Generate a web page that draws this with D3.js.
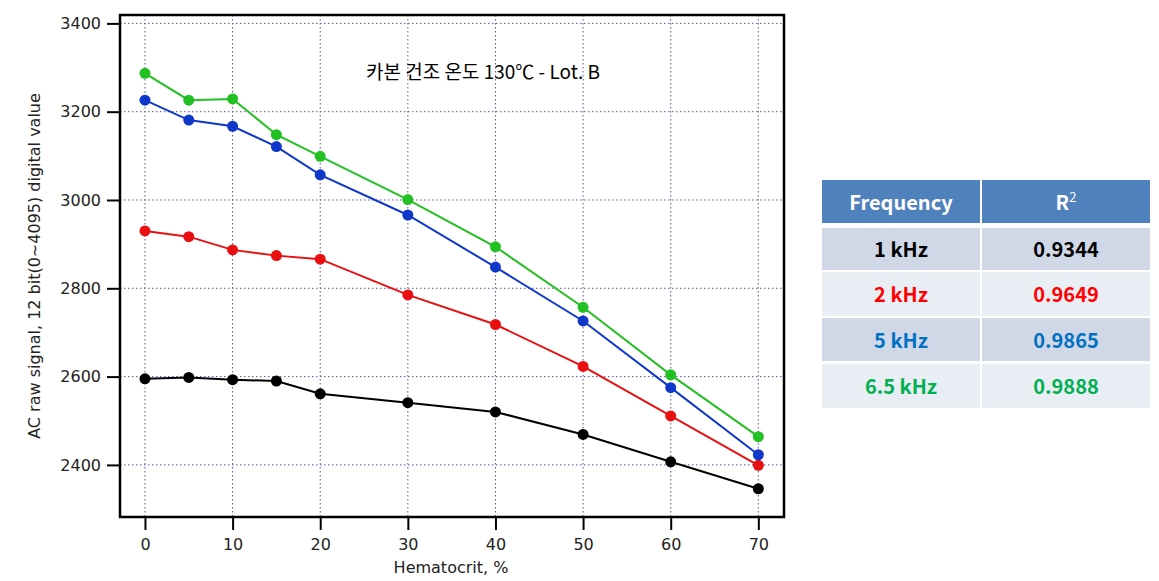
<!DOCTYPE html>
<html><head><meta charset="utf-8">
<script src="https://cdn.jsdelivr.net/npm/d3@7"></script>
<style>body{margin:0;background:#fff;}</style>
</head><body>
<svg id="c" width="1159" height="581"></svg>
<script>
const hematocrit = [0, 5, 10, 15, 20, 30, 40, 50, 60, 70];
const series1k  = [2595, 2598, 2593, 2590, 2561, 2541, 2520, 2469, 2407, 2346];
const series2k  = [2930, 2917, 2887, 2874, 2866, 2785, 2718, 2623, 2511, 2399];
const series5k  = [3226, 3181, 3167, 3121, 3057, 2966, 2848, 2726, 2575, 2423];
const series65k = [3287, 3226, 3229, 3148, 3099, 3001, 2894, 2757, 2604, 2464];
const seriesColors = ["#000000", "#e81010", "#1038c8", "#22c022"];
const xTicks = [0, 10, 20, 30, 40, 50, 60, 70];
const yTicks = [2400, 2600, 2800, 3000, 3200, 3400];
const tableFreq = ["1 kHz", "2 kHz", "5 kHz", "6.5 kHz"];
const tableR2 = ["0.9344", "0.9649", "0.9865", "0.9888"];
const tableColors = ["#000000", "#ff0000", "#0070c0", "#00b050"];

const svg = d3.select("#c");
const L = 120, T = 15, R = 784, B = 517;
const x = d3.scaleLinear().domain([-2.85, 72.93]).range([L, R]);
const y = d3.scaleLinear().domain([2282, 3419]).range([B, T]);
const font = "DejaVu Sans, sans-serif";

// grid
const g = svg.append("g");
g.selectAll("line.vx").data(xTicks).enter().append("line")
  .attr("x1", d => x(d)).attr("x2", d => x(d)).attr("y1", T).attr("y2", B)
  .attr("stroke", "#5a52a8").attr("stroke-width", 1).attr("stroke-dasharray", "1.5,2.5");
g.selectAll("line.hy").data(yTicks).enter().append("line")
  .attr("y1", d => y(d)).attr("y2", d => y(d)).attr("x1", L).attr("x2", R)
  .attr("stroke", "#5a52a8").attr("stroke-width", 1).attr("stroke-dasharray", "1.5,2.5");

// axes
const xAxis = d3.axisBottom(x).tickValues(xTicks).tickFormat(d3.format("d")).tickSize(13).tickPadding(9);
const yAxis = d3.axisLeft(y).tickValues(yTicks).tickFormat(d3.format("d")).tickSize(13).tickPadding(6);
const gx = svg.append("g").attr("transform", `translate(0,${B})`).call(xAxis);
const gy = svg.append("g").attr("transform", `translate(${L},0)`).call(yAxis);
[gx, gy].forEach(a => {
  a.attr("font-family", font).attr("font-size", 16);
  a.select(".domain").remove();
  a.selectAll(".tick line").attr("stroke", "#000").attr("stroke-width", 2);
  a.selectAll("text").attr("font-family", font).attr("font-size", 16).attr("fill", "#222");
});

// series
const allSeries = [series1k, series2k, series5k, series65k];
const line = d3.line().x((d, i) => x(hematocrit[i])).y(d => y(d));
allSeries.forEach((s, k) => {
  svg.append("path").datum(s).attr("d", line).attr("fill", "none")
    .attr("stroke", seriesColors[k]).attr("stroke-width", 2);
  svg.selectAll(null).data(s).enter().append("circle")
    .attr("cx", (d, i) => x(hematocrit[i])).attr("cy", d => y(d)).attr("r", 5.5)
    .attr("fill", seriesColors[k]);
});

// frame
svg.append("rect").attr("x", L).attr("y", T).attr("width", R - L).attr("height", B - T)
  .attr("fill", "none").attr("stroke", "#000").attr("stroke-width", 2.5);

// labels
svg.append("text").attr("x", 451).attr("y", 573).attr("text-anchor", "middle")
  .attr("font-family", font).attr("font-size", 16).attr("fill", "#222").text("Hematocrit, %");
svg.append("text").attr("transform", "translate(40,266) rotate(-90)").attr("text-anchor", "middle")
  .attr("font-family", font).attr("font-size", 16).attr("fill", "#222")
  .text("AC raw signal, 12 bit(0~4095) digital value");
svg.append("text").attr("x", 483).attr("y", 79).attr("text-anchor", "middle")
  .attr("font-family", "Noto Sans CJK KR, sans-serif").attr("font-size", 19).attr("fill", "#000")
  .text("카본 건조 온도 130℃ - Lot. B");

// table
const c1x = 822, c1w = 158, c2x = 982, c2w = 168;
const tfont = "Noto Sans CJK KR, sans-serif";
svg.append("rect").attr("x", c1x).attr("y", 180).attr("width", c1w).attr("height", 43).attr("fill", "#4f81bd");
svg.append("rect").attr("x", c2x).attr("y", 180).attr("width", c2w).attr("height", 43).attr("fill", "#4f81bd");
svg.append("text").attr("x", c1x + c1w / 2).attr("y", 210).attr("text-anchor", "middle")
  .attr("font-family", tfont).attr("font-weight", "bold").attr("font-size", 20).attr("fill", "#fff").text("Frequency");
const rt = svg.append("text").attr("x", c2x + c2w / 2).attr("y", 210).attr("text-anchor", "middle")
  .attr("font-family", tfont).attr("font-weight", "bold").attr("font-size", 20).attr("fill", "#fff");
rt.append("tspan").text("R");
rt.append("tspan").attr("dy", -8).attr("font-size", 13).attr("font-weight", "normal").text("2");

const rowY = [228, 272, 318, 364];
const rowH = [42, 44, 43, 44];
const rowFill = ["#d0d8e8", "#e9edf4", "#d0d8e8", "#e9edf4"];
tableFreq.forEach((f, i) => {
  svg.append("rect").attr("x", c1x).attr("y", rowY[i]).attr("width", c1w).attr("height", rowH[i]).attr("fill", rowFill[i]);
  svg.append("rect").attr("x", c2x).attr("y", rowY[i]).attr("width", c2w).attr("height", rowH[i]).attr("fill", rowFill[i]);
  const cy = rowY[i] + rowH[i] / 2 + 8;
  svg.append("text").attr("x", c1x + c1w / 2).attr("y", cy).attr("text-anchor", "middle")
    .attr("font-family", tfont).attr("font-weight", "bold").attr("font-size", 20).attr("fill", tableColors[i]).text(f);
  svg.append("text").attr("x", c2x + c2w / 2).attr("y", cy).attr("text-anchor", "middle")
    .attr("font-family", tfont).attr("font-weight", "bold").attr("font-size", 20).attr("fill", tableColors[i]).text(tableR2[i]);
});
</script>
</body></html>
